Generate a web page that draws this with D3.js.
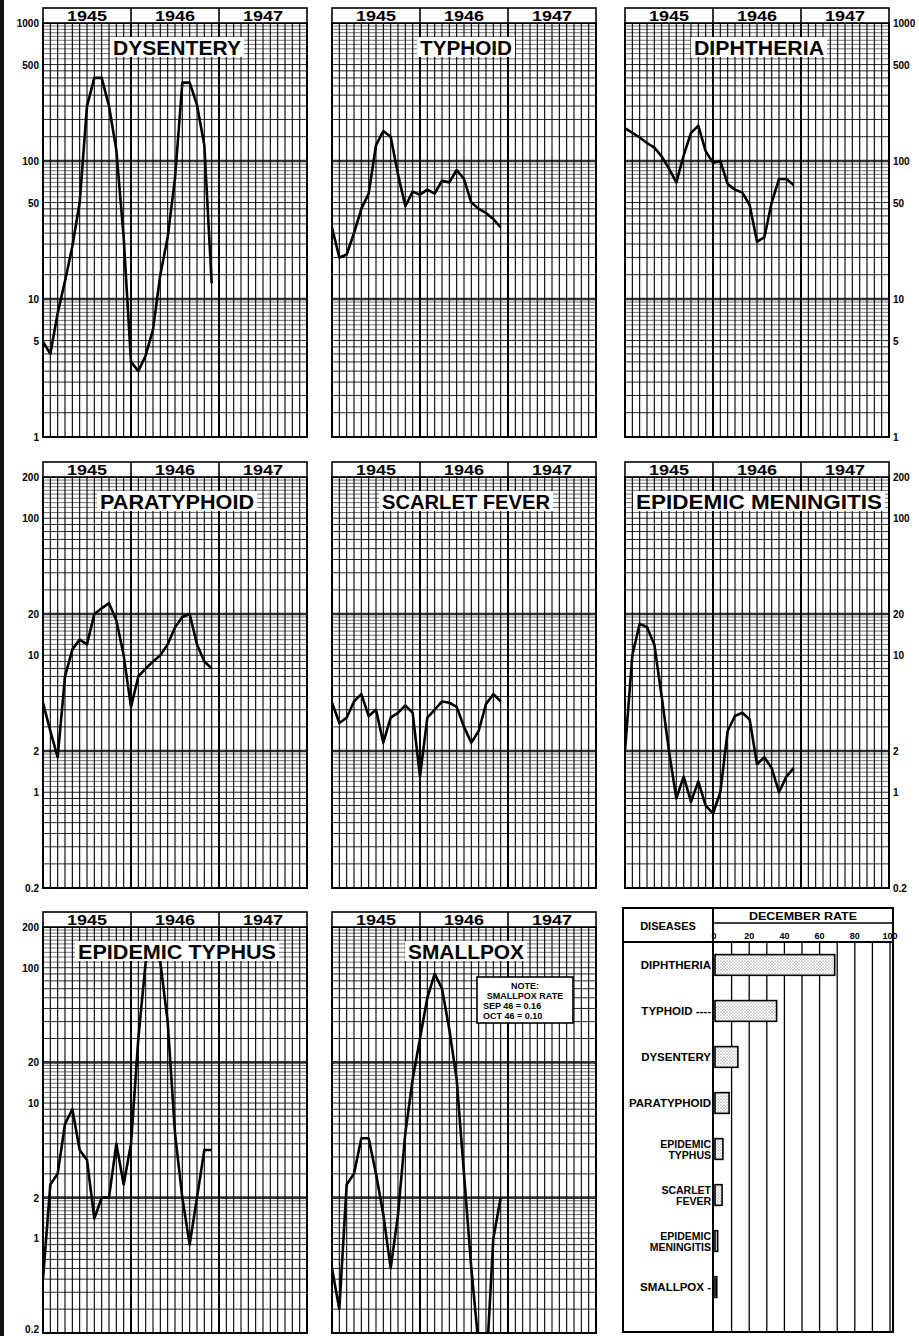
<!DOCTYPE html>
<html>
<head>
<meta charset="utf-8">
<script src="https://cdn.jsdelivr.net/npm/d3@7"></script>
<style>
body { margin: 0; background: #fff; }
svg { display: block; }
text { font-family: "Liberation Sans", Arial, sans-serif; font-weight: bold; fill: #000; }
</style>
</head>
<body>
<div id="cont"></div>
<script>
// data: monthly rates, Jan 1945 .. Dec 1946
var years = ["1945", "1946", "1947"];
var months = d3.range(24);

var dysentery = [4.9, 4.0, 7.9, 13.5, 24, 50, 250, 400, 400, 250, 120, 28, 3.5, 3.0, 3.9, 6, 15, 28, 75, 370, 370, 255, 130, 13];
var typhoid = [33, 20, 21, 30, 45, 58, 130, 165, 150, 80, 47, 60, 57, 62, 58, 72, 70, 86, 74, 50, 45, 42, 38, 33];
var diphtheria = [173, 160, 148, 135, 125, 108, 88, 70, 110, 160, 180, 118, 97, 100, 68, 62, 59, 48, 26, 28, 50, 74, 74, 67];
var paratyphoid = [4.5, 2.8, 1.8, 7, 11, 13, 12, 20, 22, 24, 18, 10, 4.2, 7, 8, 9, 10, 12, 16, 19, 20, 12, 9, 8];
var scarletFever = [4.5, 3.2, 3.5, 4.6, 5.2, 3.6, 4.0, 2.3, 3.5, 3.8, 4.3, 3.8, 1.3, 3.5, 4.0, 4.6, 4.5, 4.2, 3.0, 2.3, 2.8, 4.4, 5.2, 4.6];
var meningitis = [2, 10, 17, 16, 12, 5, 2.0, 0.9, 1.3, 0.85, 1.2, 0.8, 0.7, 1.0, 2.8, 3.6, 3.8, 3.4, 1.6, 1.8, 1.5, 1.0, 1.3, 1.5];
var epidemicTyphus = [0.5, 2.5, 3, 7, 9, 4.5, 3.8, 1.4, 2.0, 2.0, 5, 2.5, 5, 30, 110, 140, 110, 40, 6, 2, 0.9, 2, 4.5, 4.5];
var smallpox = [0.6, 0.3, 2.5, 3, 5.5, 5.5, 3, 1.5, 0.6, 1.5, 6, 15, 30, 60, 90, 70, 35, 15, 3, 0.6, 0.16, 0.10, 1, 2];

var ticksHigh = [1000, 500, 100, 50, 10, 5, 1];
var ticksLow = [200, 100, 20, 10, 2, 1, 0.2];

var barDiseases = ["DIPHTHERIA", "TYPHOID", "DYSENTERY", "PARATYPHOID", "EPIDEMIC TYPHUS", "SCARLET FEVER", "EPIDEMIC MENINGITIS", "SMALLPOX"];
var barLabels = [["DIPHTHERIA"], ["TYPHOID ----"], ["DYSENTERY"], ["PARATYPHOID"], ["EPIDEMIC", "TYPHUS"], ["SCARLET", "FEVER"], ["EPIDEMIC", "MENINGITIS"], ["SMALLPOX -"]];
var decemberRate = [68, 35, 13, 8, 4.5, 4, 1.5, 1];
var rateTicks = [0, 20, 40, 60, 80, 100];

var noteLines = ["NOTE:", "SMALLPOX  RATE", "SEP 46 = 0.16", "OCT 46 = 0.10"];

// paper cycle lines (log paper, 1..10 in each cycle)
var cycleLines = [1, 1.5, 2, 2.5, 3, 3.5, 4, 4.5, 5, 5.5, 6, 6.5, 7, 7.5, 8, 8.5, 9, 9.5];

var colX = [43, 332, 625];
var rowY = [23, 477, 927];
var rowH = [414, 411, 406];
var W = 264;

var panels = [
	{name: "DYSENTERY", data: dysentery, col: 0, row: 0, lo: 1, tw: 128},
	{name: "TYPHOID", data: typhoid, col: 1, row: 0, lo: 1, tw: 92},
	{name: "DIPHTHERIA", data: diphtheria, col: 2, row: 0, lo: 1, tw: 130},
	{name: "PARATYPHOID", data: paratyphoid, col: 0, row: 1, lo: 0.2, tw: 154},
	{name: "SCARLET FEVER", data: scarletFever, col: 1, row: 1, lo: 0.2, tw: 168},
	{name: "EPIDEMIC MENINGITIS", data: meningitis, col: 2, row: 1, lo: 0.2, tw: 246},
	{name: "EPIDEMIC  TYPHUS", data: epidemicTyphus, col: 0, row: 2, lo: 0.2, tw: 198},
	{name: "SMALLPOX", data: smallpox, col: 1, row: 2, lo: 0.2, tw: 116}
];

var svg = d3.select("#cont").append("svg").attr("width", 919).attr("height", 1336);

// binding edge of the scan
svg.append("rect").attr("x", 0).attr("y", 0).attr("width", 4).attr("height", 1336).attr("fill", "#111");

var defs = svg.append("defs");
var pat = defs.append("pattern").attr("id", "stipple").attr("width", 3).attr("height", 3)
	.attr("patternUnits", "userSpaceOnUse");
pat.append("rect").attr("width", 3).attr("height", 3).attr("fill", "#fff");
pat.append("circle").attr("cx", 1).attr("cy", 1).attr("r", 0.6).attr("fill", "#555");
pat.append("circle").attr("cx", 2.5).attr("cy", 2.5).attr("r", 0.4).attr("fill", "#888");

panels.forEach(function(p, i) {
	var x0 = colX[p.col], y0 = rowY[p.row], h = rowH[p.row];
	var x = d3.scaleLinear().domain([0, 36]).range([x0, x0 + W]);
	var y = d3.scaleLog().domain([p.lo, p.lo * 1000]).range([y0 + h, y0]);
	var g = svg.append("g");

	defs.append("clipPath").attr("id", "clip" + i).append("rect")
		.attr("x", x0).attr("y", y0).attr("width", W).attr("height", h);

	// horizontal log-paper lines
	var hv = [];
	[1, 10, 100].forEach(function(dec) {
		cycleLines.forEach(function(c) { hv.push(p.lo * dec * c); });
	});
	g.selectAll(".h").data(hv).enter().append("line")
		.attr("x1", x0).attr("x2", x0 + W)
		.attr("y1", function(d) { return y(d); }).attr("y2", function(d) { return y(d); })
		.attr("stroke", "#111").attr("stroke-width", function(d) {
			var c = d / p.lo / Math.pow(10, Math.floor(Math.log10(d / p.lo) + 1e-9));
			return c > 5.2 ? 0.6 : 0.9;
		});
	g.selectAll(".hd").data([p.lo * 10, p.lo * 100]).enter().append("line")
		.attr("x1", x0).attr("x2", x0 + W)
		.attr("y1", function(d) { return y(d); }).attr("y2", function(d) { return y(d); })
		.attr("stroke", "#333").attr("stroke-width", 2.6);

	// monthly verticals
	g.selectAll(".v").data(d3.range(1, 36)).enter().append("line")
		.attr("x1", function(d) { return x(d); }).attr("x2", function(d) { return x(d); })
		.attr("y1", y0).attr("y2", y0 + h)
		.attr("stroke", "#000")
		.attr("stroke-width", function(d) { return d % 12 === 0 ? 2 : 1.1; });

	g.append("rect").attr("x", x0).attr("y", y0).attr("width", W).attr("height", h)
		.attr("fill", "none").attr("stroke", "#000").attr("stroke-width", 2);

	// year header
	g.append("rect").attr("x", x0).attr("y", y0 - 15).attr("width", W).attr("height", 15)
		.attr("fill", "#fff").attr("stroke", "#000").attr("stroke-width", 1.6);
	years.forEach(function(yr, k) {
		if (k > 0) g.append("line").attr("x1", x(k * 12)).attr("x2", x(k * 12))
			.attr("y1", y0 - 15).attr("y2", y0).attr("stroke", "#000").attr("stroke-width", 1.6);
		g.append("text").attr("x", x(k * 12 + 6)).attr("y", y0 - 2.5)
			.attr("text-anchor", "middle").attr("font-size", 14)
			.attr("textLength", 40).attr("lengthAdjust", "spacingAndGlyphs").text(yr);
	});

	// series line
	var line = d3.line()
		.x(function(d, k) { return x(months[k]); })
		.y(function(d) { return y(d); });
	g.append("path").datum(p.data)
		.attr("clip-path", "url(#clip" + i + ")")
		.attr("d", line)
		.attr("fill", "none").attr("stroke", "#000").attr("stroke-width", 2.6)
		.attr("stroke-linejoin", "round");

	// title with white backing
	var cy = y0 + 24;
	var tx = x0 + W / 2 + 2;
	g.append("rect").attr("x", tx - p.tw / 2 - 3).attr("y", cy - 10).attr("width", p.tw + 6).attr("height", 20)
		.attr("fill", "#fff");
	g.append("text").attr("x", tx).attr("y", cy + 8).attr("text-anchor", "middle")
		.attr("font-size", 21).attr("textLength", p.tw).attr("lengthAdjust", "spacingAndGlyphs").text(p.name);

	// value labels
	var ticks = p.lo === 1 ? ticksHigh : ticksLow;
	if (p.col !== 1) {
		g.selectAll(".yl").data(ticks).enter().append("text")
			.attr("x", p.col === 0 ? x0 - 4 : x0 + W + 4)
			.attr("y", function(d) { return Math.min(y(d) + 4, 1333); })
			.attr("text-anchor", p.col === 0 ? "end" : "start")
			.attr("font-size", 10)
			.text(function(d) { return d; });
	}
});

// smallpox note
var nx = 477, ny = 977;
svg.append("rect").attr("x", nx).attr("y", ny).attr("width", 96).attr("height", 46)
	.attr("fill", "#fff").attr("stroke", "#000").attr("stroke-width", 1.6);
noteLines.forEach(function(t, k) {
	svg.append("text").attr("x", k < 2 ? nx + 48 : nx + 6).attr("y", ny + 12 + k * 10)
		.attr("text-anchor", k < 2 ? "middle" : "start").attr("font-size", 9).text(t);
});

// December rate bars
var bx = d3.scaleLinear().domain([0, 100]).range([714, 890]);
var by = d3.scaleBand().domain(barDiseases).range([950, 1302]).paddingInner(0.55).paddingOuter(0.1);
var bg = svg.append("g");
bg.append("rect").attr("x", 623).attr("y", 908).attr("width", 270).attr("height", 424)
	.attr("fill", "none").attr("stroke", "#000").attr("stroke-width", 2);
bg.append("line").attr("x1", 713).attr("x2", 713).attr("y1", 908).attr("y2", 1332).attr("stroke", "#000").attr("stroke-width", 2);
bg.append("line").attr("x1", 623).attr("x2", 893).attr("y1", 942).attr("y2", 942).attr("stroke", "#000").attr("stroke-width", 2);
bg.append("line").attr("x1", 713).attr("x2", 893).attr("y1", 923).attr("y2", 923).attr("stroke", "#000").attr("stroke-width", 1.5);
bg.append("text").attr("x", 668).attr("y", 930).attr("text-anchor", "middle").attr("font-size", 11).text("DISEASES");
bg.append("text").attr("x", 803).attr("y", 920).attr("text-anchor", "middle").attr("font-size", 11)
	.attr("textLength", 108).attr("lengthAdjust", "spacingAndGlyphs").text("DECEMBER  RATE");
bg.selectAll(".tk").data(rateTicks).enter().append("text")
	.attr("x", function(d) { return bx(d); }).attr("y", 939)
	.attr("text-anchor", "middle").attr("font-size", 9).text(function(d) { return d; });
bg.selectAll(".gl").data(d3.range(10, 101, 10)).enter().append("line")
	.attr("x1", function(d) { return bx(d); }).attr("x2", function(d) { return bx(d); })
	.attr("y1", 942).attr("y2", 1332).attr("stroke", "#000").attr("stroke-width", 1.3);
bg.selectAll(".bar").data(decemberRate).enter().append("rect")
	.attr("x", bx(0) + 1)
	.attr("y", function(d, k) { return by(barDiseases[k]); })
	.attr("width", function(d) { return bx(d) - bx(0); })
	.attr("height", by.bandwidth())
	.attr("fill", "url(#stipple)").attr("stroke", "#000").attr("stroke-width", 1.6);
barLabels.forEach(function(lines, k) {
	var cy = by(barDiseases[k]) + by.bandwidth() / 2;
	lines.forEach(function(t, j) {
		bg.append("text").attr("x", 711).attr("y", cy + 4 + (j - (lines.length - 1) / 2) * 11)
			.attr("text-anchor", "end").attr("font-size", lines.length > 1 ? 10.5 : 11.5).text(t);
	});
});
</script>
</body>
</html>
